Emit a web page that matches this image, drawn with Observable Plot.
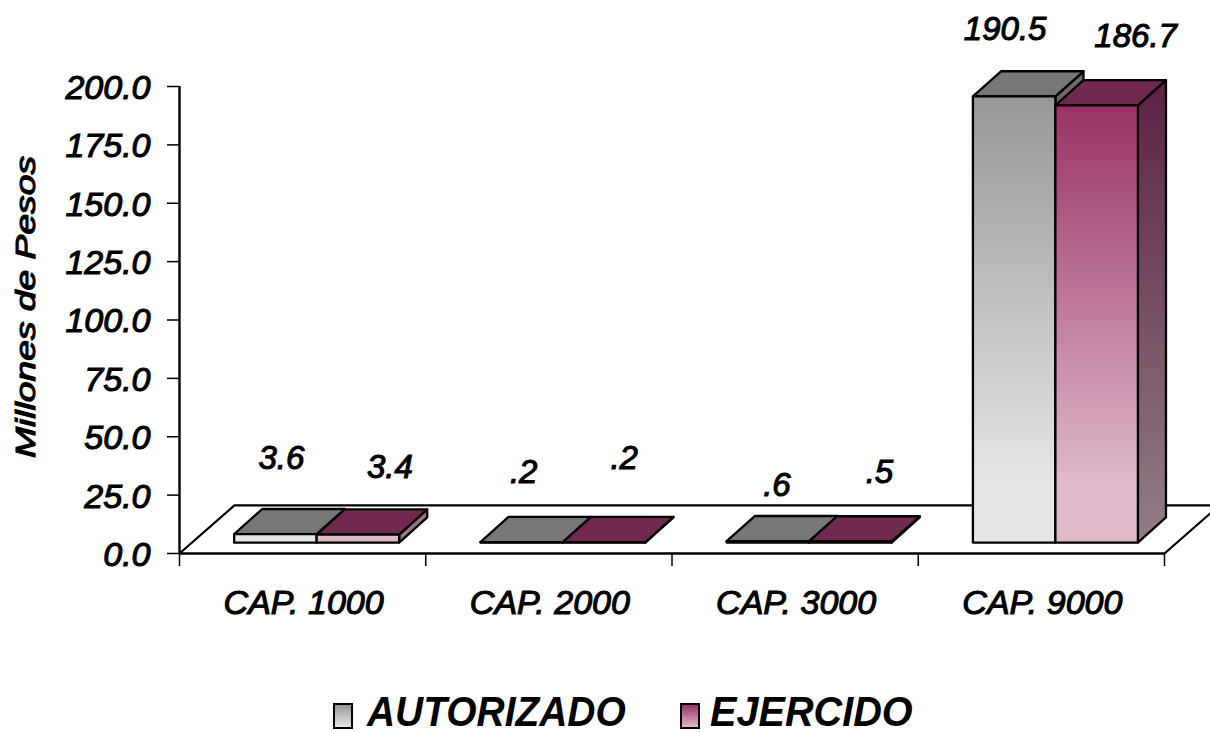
<!DOCTYPE html>
<html>
<head>
<meta charset="utf-8">
<script src="https://cdn.jsdelivr.net/npm/d3@7"></script>
<script src="https://cdn.jsdelivr.net/npm/@observablehq/plot@0.6"></script>
<style>
  html, body { margin: 0; padding: 0; background: #fff; overflow: hidden; }
  svg { display: block; }
  svg text { stroke: #000; stroke-width: 1.1px; }
  #legend { position: relative; height: 53px; font: italic bold 43px "Liberation Sans", Arial, sans-serif; color: #000; }
  #legend .sw { position: absolute; top: 23px; width: 16px; height: 22px; border: 2.5px solid #000; box-sizing: content-box; }
  #legend .lb { position: absolute; top: 12px; height: 38px; line-height: 38px; white-space: nowrap; transform-origin: left center; }
</style>
</head>
<body>
<div id="chart"></div>
<div id="legend"></div>
<script>
const categories = ["CAP. 1000", "CAP. 2000", "CAP. 3000", "CAP. 9000"];
const seriesNames = ["AUTORIZADO", "EJERCIDO"];
const autorizado = [3.6, 0.2, 0.6, 190.5];
const ejercido = [3.4, 0.2, 0.5, 186.7];
const valueLabels = [["3.6", ".2", ".6", "190.5"], ["3.4", ".2", ".5", "186.7"]];
const yTicks = [0, 25, 50, 75, 100, 125, 150, 175, 200];

// Layout of the pseudo-3D projection, in data units of the x and y scales
const barStart = 0.222, barWidth = 0.335;
const depthX = 0.114, depthY = 10.75;
const floorX = 0.223, floorY = 20.6;
const baseY = 4.7, heightFactor = 1.003;
// Hand-placed label offsets from each bar's top centre, in pixels
const labelNudge = [
  [[6, -76], [2, -70], [9, -56], [-9, -67]],
  [[32, -67], [20, -84], [29, -69], [39, -69]]
];

const palette = {
  front: [["#979797", "#e6e6e6"], ["#993366", "#e0bacb"]],
  side: [["#6a6a6a", "#8a8a8a"], ["#5e2445", "#917a85"]],
  top: ["#777777", "#72294f"]
};
const F = {fontFamily: "Liberation Sans, Arial, sans-serif", fontStyle: "italic", fill: "#000"};

const topOf = v => baseY + v * heightFactor;

function poly(points, fill, strokeWidth = 2.3) {
  return Plot.line(points.concat([points[0]]).map(([x, y]) => ({x, y})),
    {x: "x", y: "y", fill, stroke: "#000", strokeWidth, curve: "linear"});
}

const defs = (index, {y}) => {
  const d = d3.create("svg:defs");
  [autorizado, ejercido].forEach((vals, s) => {
    ["front", "side"].forEach(kind => {
      const shift = kind === "side" ? depthY / 2 : 0;
      const g = d.append("linearGradient").attr("id", `${kind}${s}`)
        .attr("gradientUnits", "userSpaceOnUse")
        .attr("x1", 0).attr("x2", 0)
        .attr("y1", y(topOf(d3.max(vals)) + shift))
        .attr("y2", y(baseY + shift));
      g.append("stop").attr("offset", 0).attr("stop-color", palette[kind][s][0]);
      g.append("stop").attr("offset", kind === "front" ? 0.87 : 1).attr("stop-color", palette[kind][s][1]);
    });
  });
  return d.node();
};

const bars = [];
categories.forEach((c, i) => {
  [autorizado, ejercido].forEach((vals, s) => {
    const x0 = i + barStart + s * barWidth, x1 = x0 + barWidth;
    const t = topOf(vals[i]);
    bars.push(
      poly([[x1, baseY], [x1 + depthX, baseY + depthY], [x1 + depthX, t + depthY], [x1, t]], `url(#side${s})`),
      poly([[x0, t], [x1, t], [x1 + depthX, t + depthY], [x0 + depthX, t + depthY]], palette.top[s]),
      poly([[x0, baseY], [x1, baseY], [x1, t], [x0, t]], `url(#front${s})`)
    );
  });
});

const labels = [];
[autorizado, ejercido].forEach((vals, s) => {
  vals.forEach((v, i) => {
    const [dx, dy] = labelNudge[s][i];
    labels.push(Plot.text([valueLabels[s][i]], {
      x: () => i + barStart + (s + 0.5) * barWidth,
      y: () => topOf(v),
      text: d => d, dx, dy, fontSize: 33, ...F
    }));
  });
});

// stretch the rotated axis title along its length, as in the reference
const stretch = (len) => (i, s, v, d, c, next) => {
  const g = next(i, s, v, d, c);
  d3.select(g).selectAll("text").attr("textLength", len).attr("lengthAdjust", "spacingAndGlyphs");
  return g;
};

const chart = Plot.plot({
  width: 1210, height: 680,
  marginLeft: 179, marginRight: 46, marginTop: 86, marginBottom: 127,
  x: {domain: [0, 4], axis: null},
  y: {domain: [0, 200], axis: null},
  marks: [
    defs,
    // floor
    Plot.line([[0, 0], [floorX, floorY], [4 + floorX, floorY], [4, 0]].map(([x, y]) => ({x, y})),
      {x: "x", y: "y", stroke: "#000", strokeWidth: 2.2, curve: "linear"}),
    Plot.axisX({ticks: [0, 1, 2, 3, 4], tickSize: 13, tickFormat: () => "", label: null, stroke: "#000", strokeWidth: 1.5}),
    Plot.axisY({ticks: yTicks, tickSize: 12, tickFormat: () => "", label: null, stroke: "#000", strokeWidth: 1.5}),
    Plot.text(yTicks, {x: () => 0, y: d => d, text: d => d.toFixed(1), textAnchor: "end", dx: -29, dy: 1.5, fontSize: 34, ...F}),
    Plot.ruleX([0], {y1: 0, y2: 200, stroke: "#000", strokeWidth: 2.4}),
    Plot.ruleY([0], {x1: 0, x2: 4, stroke: "#000", strokeWidth: 2.4}),
    ...bars,
    ...labels,
    Plot.text(categories, {x: (d, i) => i + 0.5, y: () => 0, text: d => d, dx: 1, dy: 50, fontSize: 34, ...F}),
    Plot.text(["Millones de Pesos"], {frameAnchor: "left", textAnchor: "middle", rotate: -90, dx: -153, dy: -13,
      fontSize: 28, render: stretch(302), ...F})
  ]
});
document.getElementById("chart").append(chart);

const legend = document.getElementById("legend");
const legendLayout = [[333, 367, 0.905], [680, 710, 0.922]];
seriesNames.forEach((name, s) => {
  const [swX, lbX, squeeze] = legendLayout[s];
  const sw = document.createElement("div");
  sw.className = "sw";
  sw.style.left = swX + "px";
  sw.style.background = `linear-gradient(${palette.front[s][0]}, ${palette.front[s][1]})`;
  const lb = document.createElement("div");
  lb.className = "lb";
  lb.style.left = lbX + "px";
  lb.style.transform = `scaleX(${squeeze})`;
  lb.textContent = name;
  legend.append(sw, lb);
});
</script>
</body>
</html>
